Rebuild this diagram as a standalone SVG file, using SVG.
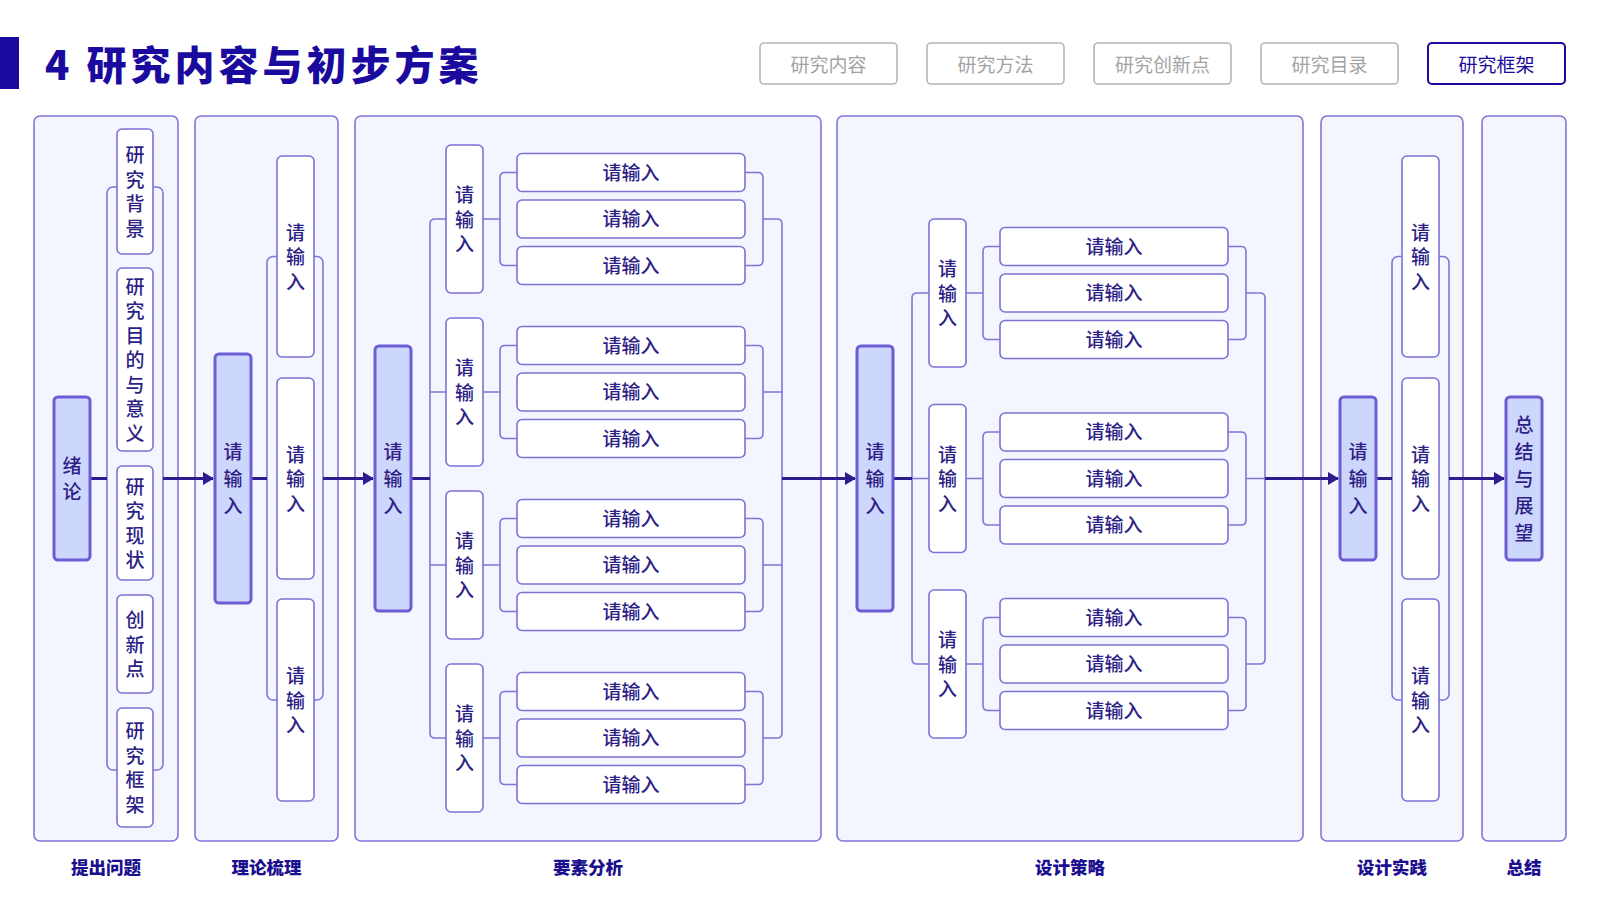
<svg xmlns="http://www.w3.org/2000/svg" width="1600" height="900" viewBox="0 0 1600 900">
<defs>
<style>
text{font-family:"Noto Sans CJK SC","Noto Sans",sans-serif;}
.panel{fill:#f3f5ff;stroke:#8176d8;stroke-width:1.6;}
.node{fill:#ffffff;stroke:#7e71d6;stroke-width:1.6;}
.main{fill:#cdd6fc;stroke:#6c5dd3;stroke-width:3;}
.br{fill:none;stroke:#8176d8;stroke-width:1.6;}
.flow{fill:none;stroke:#2e1b8e;stroke-width:3;}
.t{font-size:19px;font-weight:500;fill:#2d1f86;text-anchor:middle;dominant-baseline:central;transform:translate(0px,-1.5px);}
.lbl{font-size:17.5px;font-weight:900;fill:#1c0f8f;text-anchor:middle;dominant-baseline:central;}
.tab{fill:#ffffff;stroke:#b5b5b5;stroke-width:1.6;}
.tabt{font-size:19px;fill:#a3a3a3;text-anchor:middle;dominant-baseline:central;}
.tabA{fill:#ffffff;stroke:#1a0a9e;stroke-width:2;}
.tabAt{font-size:19px;fill:#1a0a9e;text-anchor:middle;dominant-baseline:central;}
</style>
<marker id="arr" markerUnits="userSpaceOnUse" markerWidth="11" markerHeight="13" refX="10" refY="6.5" orient="auto">
<path d="M0,0 L11,6.5 L0,13 z" fill="#2e1b8e"/>
</marker>
</defs>
<rect width="1600" height="900" fill="#ffffff"/>

<!-- header -->
<g id="header">
<rect x="0" y="37" width="19" height="52" fill="#1a0a9e"/>
<text x="45" y="63" style="font-size:40px;font-weight:900;fill:#1a0a9e;dominant-baseline:central;letter-spacing:4px;">4 研究内容与初步方案</text>
</g>
<g id="tabs">
<rect class="tab" x="760" y="43" width="137" height="41" rx="4"/><text class="tabt" x="828.5" y="63.5">研究内容</text>
<rect class="tab" x="927" y="43" width="137" height="41" rx="4"/><text class="tabt" x="995.5" y="63.5">研究方法</text>
<rect class="tab" x="1094" y="43" width="137" height="41" rx="4"/><text class="tabt" x="1162.5" y="63.5">研究创新点</text>
<rect class="tab" x="1261" y="43" width="137" height="41" rx="4"/><text class="tabt" x="1329.5" y="63.5">研究目录</text>
<rect class="tabA" x="1428" y="43" width="137" height="41" rx="4"/><text class="tabAt" x="1496.5" y="63.5">研究框架</text>
</g>

<!-- panels -->
<g id="panels">
<rect class="panel" x="34" y="116" width="144" height="725" rx="6"/>
<rect class="panel" x="195" y="116" width="143" height="725" rx="6"/>
<rect class="panel" x="355" y="116" width="466" height="725" rx="6"/>
<rect class="panel" x="837" y="116" width="466" height="725" rx="6"/>
<rect class="panel" x="1321" y="116" width="142" height="725" rx="6"/>
<rect class="panel" x="1482" y="116" width="84" height="725" rx="6"/>
<text class="lbl" x="106" y="866">提出问题</text>
<text class="lbl" x="266.5" y="866">理论梳理</text>
<text class="lbl" x="588" y="866">要素分析</text>
<text class="lbl" x="1070" y="866">设计策略</text>
<text class="lbl" x="1392" y="866">设计实践</text>
<text class="lbl" x="1524" y="866">总结</text>
</g>

<!-- connectors -->
<g id="connectors">
<rect class="br" x="107" y="187" width="56" height="583" rx="6"/>
<rect class="br" x="267" y="256.5" width="56" height="443.5" rx="6"/>
<rect class="br" x="1392" y="256.5" width="57" height="443.5" rx="6"/>
<path class="br" d="M446,219 H435 Q430,219 430,224 V733 Q430,738 435,738 H446 M430,392 H446 M430,565 H446"/>
<path class="br" d="M517,172.5 H505 Q500,172.5 500,177.5 V260.5 Q500,265.5 505,265.5 H517 M483,219 H500"/>
<path class="br" d="M517,345.5 H505 Q500,345.5 500,350.5 V433.5 Q500,438.5 505,438.5 H517 M483,392 H500"/>
<path class="br" d="M517,518.5 H505 Q500,518.5 500,523.5 V606.5 Q500,611.5 505,611.5 H517 M483,565 H500"/>
<path class="br" d="M517,691.5 H505 Q500,691.5 500,696.5 V779.5 Q500,784.5 505,784.5 H517 M483,738 H500"/>
<path class="br" d="M745,172.5 H758 Q763,172.5 763,177.5 V260.5 Q763,265.5 758,265.5 H745"/>
<path class="br" d="M745,345.5 H758 Q763,345.5 763,350.5 V433.5 Q763,438.5 758,438.5 H745 M763,392 H782"/>
<path class="br" d="M745,518.5 H758 Q763,518.5 763,523.5 V606.5 Q763,611.5 758,611.5 H745 M763,565 H782"/>
<path class="br" d="M745,691.5 H758 Q763,691.5 763,696.5 V779.5 Q763,784.5 758,784.5 H745"/>
<path class="br" d="M763,219 H777 Q782,219 782,224 V733 Q782,738 777,738 H763"/>
<path class="br" d="M929,293 H917 Q912,293 912,298 V659 Q912,664 917,664 H929 M912,478.5 H929"/>
<path class="br" d="M1000,246.5 H988 Q983,246.5 983,251.5 V334.5 Q983,339.5 988,339.5 H1000 M966,293 H983"/>
<path class="br" d="M1000,432 H988 Q983,432 983,437 V520 Q983,525 988,525 H1000 M966,478.5 H983"/>
<path class="br" d="M1000,617.5 H988 Q983,617.5 983,622.5 V705.5 Q983,710.5 988,710.5 H1000 M966,664 H983"/>
<path class="br" d="M1228,246.5 H1241 Q1246,246.5 1246,251.5 V334.5 Q1246,339.5 1241,339.5 H1228"/>
<path class="br" d="M1228,432 H1241 Q1246,432 1246,437 V520 Q1246,525 1241,525 H1228 M1246,478.5 H1265"/>
<path class="br" d="M1228,617.5 H1241 Q1246,617.5 1246,622.5 V705.5 Q1246,710.5 1241,710.5 H1228"/>
<path class="br" d="M1246,293 H1260 Q1265,293 1265,298 V659 Q1265,664 1260,664 H1246"/>
<path class="flow" d="M90,478.5 H107"/>
<path class="flow" d="M163,478.5 H213" marker-end="url(#arr)"/>
<path class="flow" d="M251,478.5 H267"/>
<path class="flow" d="M323,478.5 H373" marker-end="url(#arr)"/>
<path class="flow" d="M411,478.5 H430"/>
<path class="flow" d="M782,478.5 H855" marker-end="url(#arr)"/>
<path class="flow" d="M893,478.5 H912"/>
<path class="flow" d="M1265,478.5 H1338" marker-end="url(#arr)"/>
<path class="flow" d="M1376,478.5 H1392"/>
<path class="flow" d="M1449,478.5 H1504" marker-end="url(#arr)"/>
</g>

<!-- panel 1 -->
<g id="n-intro"><rect class="main" x="54" y="397" width="36" height="163" rx="4"/>
<text class="t"><tspan x="72" y="465.25">绪</tspan><tspan x="72" y="491.75">论</tspan></text></g>
<g id="n-bg"><rect class="node" x="117" y="129" width="36" height="125" rx="5"/>
<text class="t"><tspan x="135" y="154.75">研</tspan><tspan x="135" y="179.25">究</tspan><tspan x="135" y="203.75">背</tspan><tspan x="135" y="228.25">景</tspan></text></g>
<g id="n-aim"><rect class="node" x="117" y="268" width="36" height="183" rx="5"/>
<text class="t"><tspan x="135" y="286">研</tspan><tspan x="135" y="310.5">究</tspan><tspan x="135" y="335">目</tspan><tspan x="135" y="359.5">的</tspan><tspan x="135" y="384">与</tspan><tspan x="135" y="408.5">意</tspan><tspan x="135" y="433">义</tspan></text></g>
<g id="n-status"><rect class="node" x="117" y="466" width="36" height="114" rx="5"/>
<text class="t"><tspan x="135" y="486.25">研</tspan><tspan x="135" y="510.75">究</tspan><tspan x="135" y="535.25">现</tspan><tspan x="135" y="559.75">状</tspan></text></g>
<g id="n-innov"><rect class="node" x="117" y="595" width="36" height="98" rx="5"/>
<text class="t"><tspan x="135" y="619.5">创</tspan><tspan x="135" y="644">新</tspan><tspan x="135" y="668.5">点</tspan></text></g>
<g id="n-frame"><rect class="node" x="117" y="708" width="36" height="119" rx="5"/>
<text class="t"><tspan x="135" y="730.75">研</tspan><tspan x="135" y="755.25">究</tspan><tspan x="135" y="779.75">框</tspan><tspan x="135" y="804.25">架</tspan></text></g>

<!-- panel 2 -->
<g id="n-p2main"><rect class="main" x="215" y="354" width="36" height="249" rx="4"/>
<text class="t"><tspan x="233" y="451.5">请</tspan><tspan x="233" y="478.5">输</tspan><tspan x="233" y="505.5">入</tspan></text></g>
<g id="n-p2a"><rect class="node" x="277" y="156" width="37" height="201" rx="5"/>
<text class="t"><tspan x="295.5" y="232">请</tspan><tspan x="295.5" y="256.5">输</tspan><tspan x="295.5" y="281">入</tspan></text></g>
<g id="n-p2b"><rect class="node" x="277" y="378" width="37" height="201" rx="5"/>
<text class="t"><tspan x="295.5" y="454">请</tspan><tspan x="295.5" y="478.5">输</tspan><tspan x="295.5" y="503">入</tspan></text></g>
<g id="n-p2c"><rect class="node" x="277" y="599" width="37" height="202" rx="5"/>
<text class="t"><tspan x="295.5" y="675.5">请</tspan><tspan x="295.5" y="700">输</tspan><tspan x="295.5" y="724.5">入</tspan></text></g>

<!-- panel 3 -->
<g id="n-p3main"><rect class="main" x="375" y="346" width="36" height="265" rx="4"/>
<text class="t"><tspan x="393" y="451.5">请</tspan><tspan x="393" y="478.5">输</tspan><tspan x="393" y="505.5">入</tspan></text></g>
<g id="n-p3g1"><rect class="node" x="446" y="145" width="37" height="148" rx="5"/>
<text class="t"><tspan x="464.5" y="194.5">请</tspan><tspan x="464.5" y="219">输</tspan><tspan x="464.5" y="243.5">入</tspan></text></g>
<g id="n-p3g2"><rect class="node" x="446" y="318" width="37" height="148" rx="5"/>
<text class="t"><tspan x="464.5" y="367.5">请</tspan><tspan x="464.5" y="392">输</tspan><tspan x="464.5" y="416.5">入</tspan></text></g>
<g id="n-p3g3"><rect class="node" x="446" y="491" width="37" height="148" rx="5"/>
<text class="t"><tspan x="464.5" y="540.5">请</tspan><tspan x="464.5" y="565">输</tspan><tspan x="464.5" y="589.5">入</tspan></text></g>
<g id="n-p3g4"><rect class="node" x="446" y="664" width="37" height="148" rx="5"/>
<text class="t"><tspan x="464.5" y="713.5">请</tspan><tspan x="464.5" y="738">输</tspan><tspan x="464.5" y="762.5">入</tspan></text></g>
<g id="n-p3g1a"><rect class="node" x="517" y="153.5" width="228" height="38" rx="5"/><text class="t" x="631" y="172.5">请输入</text></g>
<g id="n-p3g1b"><rect class="node" x="517" y="200" width="228" height="38" rx="5"/><text class="t" x="631" y="219">请输入</text></g>
<g id="n-p3g1c"><rect class="node" x="517" y="246.5" width="228" height="38" rx="5"/><text class="t" x="631" y="265.5">请输入</text></g>
<g id="n-p3g2a"><rect class="node" x="517" y="326.5" width="228" height="38" rx="5"/><text class="t" x="631" y="345.5">请输入</text></g>
<g id="n-p3g2b"><rect class="node" x="517" y="373" width="228" height="38" rx="5"/><text class="t" x="631" y="392">请输入</text></g>
<g id="n-p3g2c"><rect class="node" x="517" y="419.5" width="228" height="38" rx="5"/><text class="t" x="631" y="438.5">请输入</text></g>
<g id="n-p3g3a"><rect class="node" x="517" y="499.5" width="228" height="38" rx="5"/><text class="t" x="631" y="518.5">请输入</text></g>
<g id="n-p3g3b"><rect class="node" x="517" y="546" width="228" height="38" rx="5"/><text class="t" x="631" y="565">请输入</text></g>
<g id="n-p3g3c"><rect class="node" x="517" y="592.5" width="228" height="38" rx="5"/><text class="t" x="631" y="611.5">请输入</text></g>
<g id="n-p3g4a"><rect class="node" x="517" y="672.5" width="228" height="38" rx="5"/><text class="t" x="631" y="691.5">请输入</text></g>
<g id="n-p3g4b"><rect class="node" x="517" y="719" width="228" height="38" rx="5"/><text class="t" x="631" y="738">请输入</text></g>
<g id="n-p3g4c"><rect class="node" x="517" y="765.5" width="228" height="38" rx="5"/><text class="t" x="631" y="784.5">请输入</text></g>

<!-- panel 4 -->
<g id="n-p4main"><rect class="main" x="857" y="346" width="36" height="265" rx="4"/>
<text class="t"><tspan x="875" y="451.5">请</tspan><tspan x="875" y="478.5">输</tspan><tspan x="875" y="505.5">入</tspan></text></g>
<g id="n-p4g1"><rect class="node" x="929" y="219" width="37" height="148" rx="5"/>
<text class="t"><tspan x="947.5" y="268.5">请</tspan><tspan x="947.5" y="293">输</tspan><tspan x="947.5" y="317.5">入</tspan></text></g>
<g id="n-p4g2"><rect class="node" x="929" y="404.5" width="37" height="148" rx="5"/>
<text class="t"><tspan x="947.5" y="454">请</tspan><tspan x="947.5" y="478.5">输</tspan><tspan x="947.5" y="503">入</tspan></text></g>
<g id="n-p4g3"><rect class="node" x="929" y="590" width="37" height="148" rx="5"/>
<text class="t"><tspan x="947.5" y="639.5">请</tspan><tspan x="947.5" y="664">输</tspan><tspan x="947.5" y="688.5">入</tspan></text></g>
<g id="n-p4g1a"><rect class="node" x="1000" y="227.5" width="228" height="38" rx="5"/><text class="t" x="1114" y="246.5">请输入</text></g>
<g id="n-p4g1b"><rect class="node" x="1000" y="274" width="228" height="38" rx="5"/><text class="t" x="1114" y="293">请输入</text></g>
<g id="n-p4g1c"><rect class="node" x="1000" y="320.5" width="228" height="38" rx="5"/><text class="t" x="1114" y="339.5">请输入</text></g>
<g id="n-p4g2a"><rect class="node" x="1000" y="413" width="228" height="38" rx="5"/><text class="t" x="1114" y="432">请输入</text></g>
<g id="n-p4g2b"><rect class="node" x="1000" y="459.5" width="228" height="38" rx="5"/><text class="t" x="1114" y="478.5">请输入</text></g>
<g id="n-p4g2c"><rect class="node" x="1000" y="506" width="228" height="38" rx="5"/><text class="t" x="1114" y="525">请输入</text></g>
<g id="n-p4g3a"><rect class="node" x="1000" y="598.5" width="228" height="38" rx="5"/><text class="t" x="1114" y="617.5">请输入</text></g>
<g id="n-p4g3b"><rect class="node" x="1000" y="645" width="228" height="38" rx="5"/><text class="t" x="1114" y="664">请输入</text></g>
<g id="n-p4g3c"><rect class="node" x="1000" y="691.5" width="228" height="38" rx="5"/><text class="t" x="1114" y="710.5">请输入</text></g>

<!-- panel 5 -->
<g id="n-p5main"><rect class="main" x="1340" y="397" width="36" height="163" rx="4"/>
<text class="t"><tspan x="1358" y="451.5">请</tspan><tspan x="1358" y="478.5">输</tspan><tspan x="1358" y="505.5">入</tspan></text></g>
<g id="n-p5a"><rect class="node" x="1402" y="156" width="37" height="201" rx="5"/>
<text class="t"><tspan x="1420.5" y="232">请</tspan><tspan x="1420.5" y="256.5">输</tspan><tspan x="1420.5" y="281">入</tspan></text></g>
<g id="n-p5b"><rect class="node" x="1402" y="378" width="37" height="201" rx="5"/>
<text class="t"><tspan x="1420.5" y="454">请</tspan><tspan x="1420.5" y="478.5">输</tspan><tspan x="1420.5" y="503">入</tspan></text></g>
<g id="n-p5c"><rect class="node" x="1402" y="599" width="37" height="202" rx="5"/>
<text class="t"><tspan x="1420.5" y="675.5">请</tspan><tspan x="1420.5" y="700">输</tspan><tspan x="1420.5" y="724.5">入</tspan></text></g>

<!-- panel 6 -->
<g id="n-summary"><rect class="main" x="1506" y="397" width="36" height="163" rx="4"/>
<text class="t"><tspan x="1524" y="424.5">总</tspan><tspan x="1524" y="451.5">结</tspan><tspan x="1524" y="478.5">与</tspan><tspan x="1524" y="505.5">展</tspan><tspan x="1524" y="532.5">望</tspan></text></g>
</svg>
